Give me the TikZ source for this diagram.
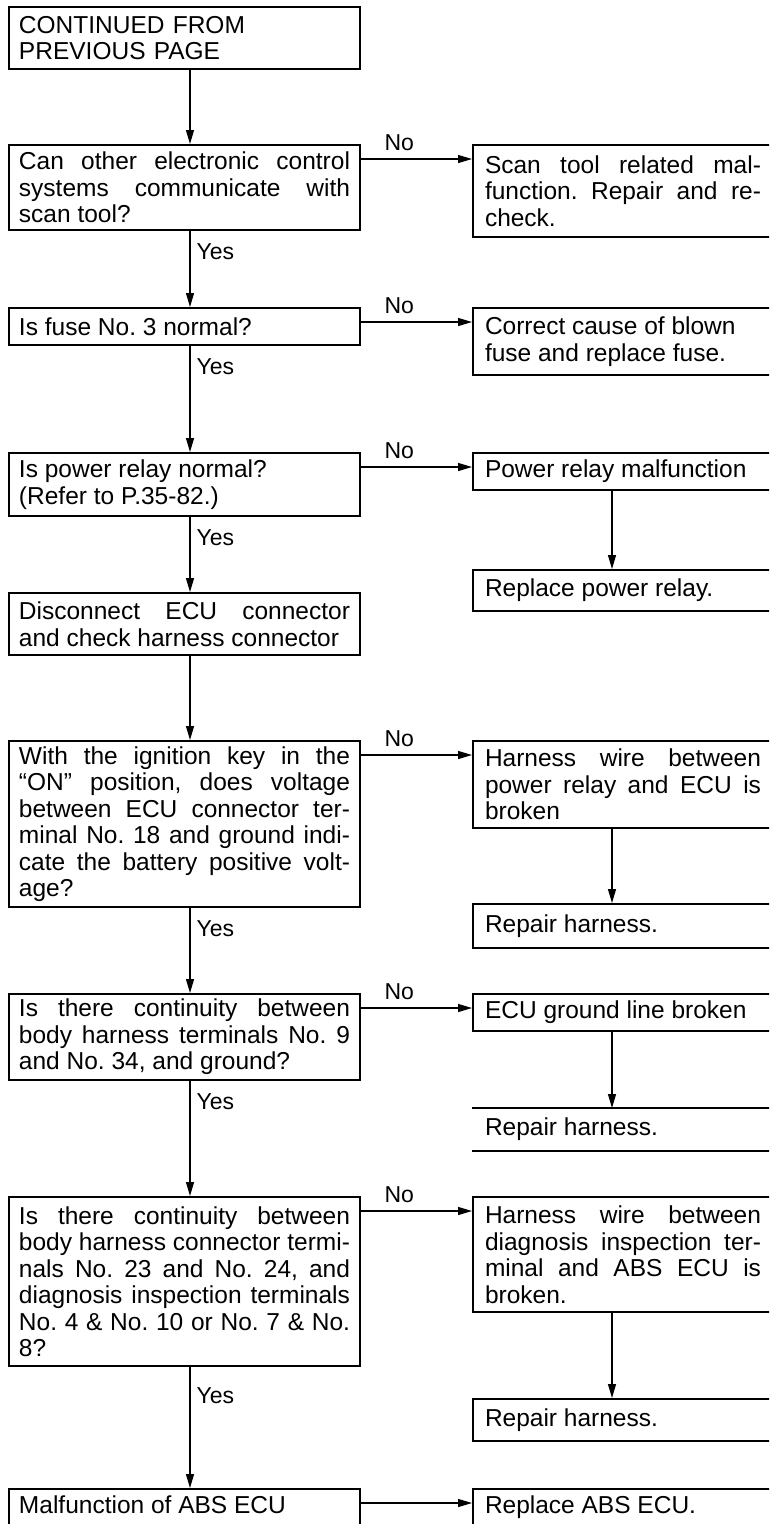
\documentclass[tikz,border=0pt]{standalone}
\usepackage{fontspec}
\setmainfont{Liberation Sans}
\usetikzlibrary{arrows.meta}

\newcommand{\boxfont}{\fontsize{24.5}{26.5}\selectfont\frenchspacing
  \tolerance=10000 \hbadness=10000 \hyphenpenalty=10000 }
\newcommand{\labfont}{\fontsize{23}{24}\selectfont}

\begin{document}
\begin{tikzpicture}[>={Triangle[length=14pt,width=8pt]},x=1pt,y=-1pt,font=\boxfont,
    qbox/.style={draw,line width=2pt,anchor=north west,text width=331pt,
      inner xsep=10pt,inner ysep=5pt,align=justify},
    abox/.style={qbox,text width=276pt,inner xsep=12pt},
    endbox/.style={text height=19pt,text depth=40pt,inner ysep=5pt},
    flow/.style={->,line width=1.2pt},
    yeslab/.style={font=\labfont,inner sep=1pt,anchor=north west,xshift=5pt,yshift=-11pt},
    nolab/.style={font=\labfont,inner sep=1pt,anchor=south west,xshift=22pt,yshift=7pt}]
  \useasboundingbox (0,0) rectangle (769,1524);
  \clip (0,0) rectangle (769,1524);
  \coordinate (colx) at (190,0);
  \coordinate (colr) at (612,0);

  % left column: checks
  \node[qbox,align=left,minimum height=62pt] (prev) at (8,6) {CONTINUED FROM\\PREVIOUS PAGE};
  \node[qbox,minimum height=85pt] (comm) at (8,144) {Can other electronic control\linebreak
    systems communicate with\linebreak scan tool?};
  \node[qbox,minimum height=37pt] (fuse) at (8,307) {Is fuse No. 3 normal?};
  \node[qbox,minimum height=63pt] (relay) at (8,452) {Is power relay normal?\\(Refer to P.35-82.)};
  \node[qbox,minimum height=62pt] (disc) at (8,592) {Disconnect ECU connector\linebreak
    and check harness connector};
  \node[qbox,minimum height=166pt] (volt) at (8,740) {With the ignition key in the\linebreak
    ``ON'' position, does voltage\linebreak between ECU connector ter-\linebreak
    minal No. 18 and ground indi-\linebreak cate the battery positive volt-\linebreak age?};
  \node[qbox,minimum height=86pt] (gnd) at (8,993) {Is there continuity between\linebreak
    body harness terminals No. 9\linebreak and No. 34, and ground?};
  \node[qbox,minimum height=169pt] (diag) at (8,1196) {Is there continuity between\linebreak
    body harness connector termi-\linebreak nals No. 23 and No. 24, and\linebreak
    diagnosis inspection terminals\linebreak No. 4 \& No. 10 or No. 7 \& No.\linebreak 8?};
  \node[qbox,endbox] (ecu) at (8,1488) {Malfunction of ABS ECU};

  % right column: results
  \node[abox,minimum height=92pt] (scanfix) at (472,144) {Scan tool related mal-\linebreak
    function. Repair and re-\linebreak check.};
  \node[abox,minimum height=67pt] (fusefix) at (472,307) {Correct cause of blown\\fuse and replace fuse.};
  \node[abox,minimum height=37pt] (relaybad) at (472,452) {Power relay malfunction};
  \node[abox,minimum height=41pt] (relayfix) at (472,569) {Replace power relay.};
  \node[abox,minimum height=87pt] (voltbad) at (472,740) {Harness wire between\linebreak
    power relay and ECU is\linebreak broken};
  \node[abox,minimum height=44pt] (voltfix) at (472,903) {Repair harness.};
  \node[abox,minimum height=37pt] (gndbad) at (472,993) {ECU ground line broken};
  \node[abox,draw=none,minimum height=41pt] (gndfix) at (472,1108) {Repair harness.};
  \draw[line width=2pt] (gndfix.north west) -- (gndfix.north east)
    (gndfix.south west) -- (gndfix.south east);
  \node[abox,minimum height=115pt] (diagbad) at (472,1196) {Harness wire between\linebreak
    diagnosis inspection ter-\linebreak minal and ABS ECU is\linebreak broken.};
  \node[abox,minimum height=42pt] (diagfix) at (472,1398) {Repair harness.};
  \node[abox,endbox] (ecufix) at (472,1488) {Replace ABS ECU.};

  % yes path
  \draw[flow] (prev.south -| colx) -- (comm.north -| colx);
  \draw[flow] (comm.south -| colx) -- node[yeslab,pos=0] {Yes} (fuse.north -| colx);
  \draw[flow] (fuse.south -| colx) -- node[yeslab,pos=0] {Yes} (relay.north -| colx);
  \draw[flow] (relay.south -| colx) -- node[yeslab,pos=0] {Yes} (disc.north -| colx);
  \draw[flow] (disc.south -| colx) -- (volt.north -| colx);
  \draw[flow] (volt.south -| colx) -- node[yeslab,pos=0] {Yes} (gnd.north -| colx);
  \draw[flow] (gnd.south -| colx) -- node[yeslab,pos=0] {Yes} (diag.north -| colx);
  \draw[flow] (diag.south -| colx) -- node[yeslab,pos=0,yshift=-8pt] {Yes} (ecu.north -| colx);

  % no path
  \draw[flow] ([yshift=-15pt]comm.north east) -- node[nolab,pos=0] {No} ([yshift=-15pt]scanfix.north west);
  \draw[flow] ([yshift=-15pt]fuse.north east) -- node[nolab,pos=0] {No} ([yshift=-15pt]fusefix.north west);
  \draw[flow] ([yshift=-15pt]relay.north east) -- node[nolab,pos=0] {No} ([yshift=-15pt]relaybad.north west);
  \draw[flow] ([yshift=-15pt]volt.north east) -- node[nolab,pos=0] {No} ([yshift=-15pt]voltbad.north west);
  \draw[flow] ([yshift=-15pt]gnd.north east) -- node[nolab,pos=0] {No} ([yshift=-15pt]gndbad.north west);
  \draw[flow] ([yshift=-15pt]diag.north east) -- node[nolab,pos=0] {No} ([yshift=-15pt]diagbad.north west);
  \draw[flow] ([yshift=-15pt]ecu.north east) -- ([yshift=-15pt]ecufix.north west);

  % repairs
  \draw[flow] (relaybad.south -| colr) -- (relayfix.north -| colr);
  \draw[flow] (voltbad.south -| colr) -- (voltfix.north -| colr);
  \draw[flow] (gndbad.south -| colr) -- (gndfix.north -| colr);
  \draw[flow] (diagbad.south -| colr) -- (diagfix.north -| colr);
\end{tikzpicture}
\end{document}
